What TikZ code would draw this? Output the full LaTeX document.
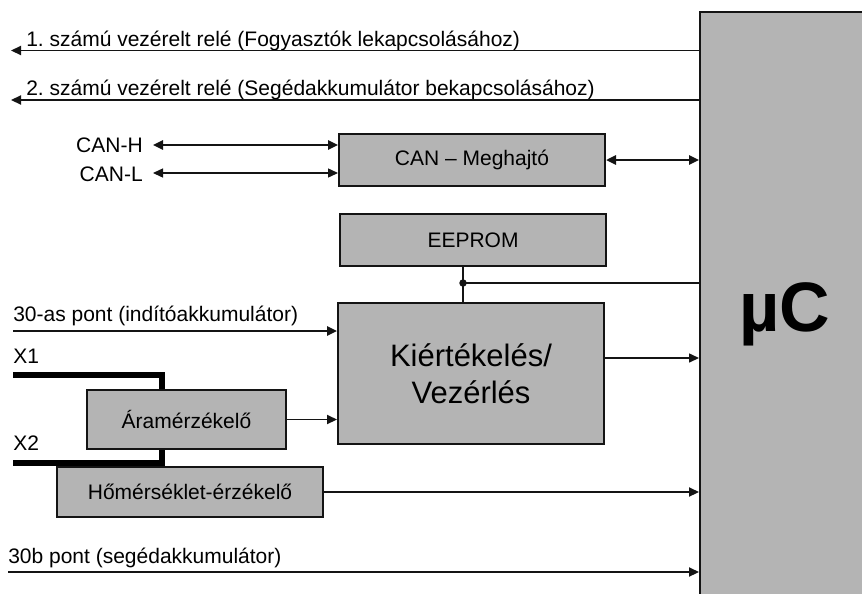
\documentclass[tikz,border=0pt]{standalone}
\usepackage{fontspec}
\setmainfont{Liberation Sans}
\usetikzlibrary{arrows.meta,calc}
\definecolor{boxgray}{RGB}{180,180,180}
\definecolor{edge}{RGB}{20,20,20}
\frenchspacing
\begin{document}
\begin{tikzpicture}[x=0.75pt,y=-0.75pt,
  txt/.style={inner sep=0pt,font=\fontsize{15.75pt}{18pt}\selectfont},
  box/.style={draw=edge,line width=1.5pt,fill=boxgray,inner sep=0pt,
    font=\fontsize{15.75pt}{18pt}\selectfont},
  tip/.tip={Triangle[length=7.5pt,width=6.8pt]},
  arr/.style={-tip,line width=1.35pt,draw=edge},
  biarr/.style={tip-tip,line width=1.35pt,draw=edge},
  bus/.style={line width=4.8pt,draw=black,line join=miter}]
\useasboundingbox (0,0) rectangle (862,593);
% microcontroller
\node[box,minimum width=127.5pt,minimum height=441pt,text height=37.5pt,text depth=0pt,
  font=\fontsize{52.5pt}{60pt}\selectfont\bfseries] (muc) at (785,306) {µC};
% blocks
\node[box,minimum width=199.5pt,minimum height=39pt] (can) at (472,160) {CAN – Meghajtó};
\node[box,minimum width=199.5pt,minimum height=39pt] (eeprom) at (473,240) {EEPROM};
\node[box,minimum width=199.5pt,minimum height=105.75pt,align=center,
  font=\fontsize{23.25pt}{27.75pt}\selectfont] (kiert) at (471,373.5) {Kiértékelés/\\Vezérlés};
\node[box,minimum width=149.25pt,minimum height=44.25pt] (aram) at (186.5,419.5) {Áramérzékelő};
\node[box,minimum width=199.5pt,minimum height=37.5pt] (hom) at (190,492) {Hőmérséklet-érzékelő};
% free ends
\coordinate (r1) at (11,50.5);
\coordinate (r2) at (11,100);
\coordinate (ch) at (153,145);
\coordinate (cl) at (153,173);
\coordinate (j) at (463,283);
\coordinate (p30) at (13,331);
\coordinate (kout) at (0,358);
\coordinate (p30b) at (8,572);
\coordinate (x1) at (13,375);
\coordinate (x2) at (13,463);
\coordinate (xc) at (162,0);
% labels
\node[txt,anchor=base west] (t1) at (26,46) {1. számú vezérelt relé (Fogyasztók lekapcsolásához)};
\node[txt,anchor=base west] (t2) at (26,95) {2. számú vezérelt relé (Segédakkumulátor bekapcsolásához)};
\node[txt,anchor=base east] (tch) at (143,152) {CAN-H};
\node[txt,anchor=base east] (tcl) at (143,181) {CAN-L};
\node[txt,anchor=base west] (t30) at (13,321) {30-as pont (indítóakkumulátor)};
\node[txt,anchor=base west] (tx1) at (13,363) {X1};
\node[txt,anchor=base west] (tx2) at (13,450) {X2};
\node[txt,anchor=base west] (t30b) at (8,563) {30b pont (segédakkumulátor)};
% connectors
\draw[arr] (muc.west |- r1) -- (r1);
\draw[arr] (muc.west |- r2) -- (r2);
\draw[biarr,line width=1.7pt] (ch) -- (can.west |- ch);
\draw[biarr,line width=0.9pt] (cl) -- (can.west |- cl);
\draw[biarr,line width=1.8pt] (can.east) -- (muc.west |- can.east);
\draw[line width=1.3pt,draw=edge] (eeprom.south -| j) -- (kiert.north -| j);
\fill[edge] (j) circle[radius=2.8pt];
\draw[line width=1.7pt,draw=edge] (j) -- (muc.west |- j);
\draw[arr,line width=1.8pt] (p30) -- (kiert.west |- p30);
\draw[arr] (aram.east) -- (kiert.west |- aram.east);
\draw[arr,line width=1pt] (kiert.east |- kout) -- (muc.west |- kout);
\draw[arr] (hom.east) -- (muc.west |- hom.east);
\draw[arr] (p30b) -- (muc.west |- p30b);
\draw[bus] (x1) -| (aram.north -| xc);
\draw[bus] (aram.south -| xc) |- (x2);
\end{tikzpicture}
\end{document}
